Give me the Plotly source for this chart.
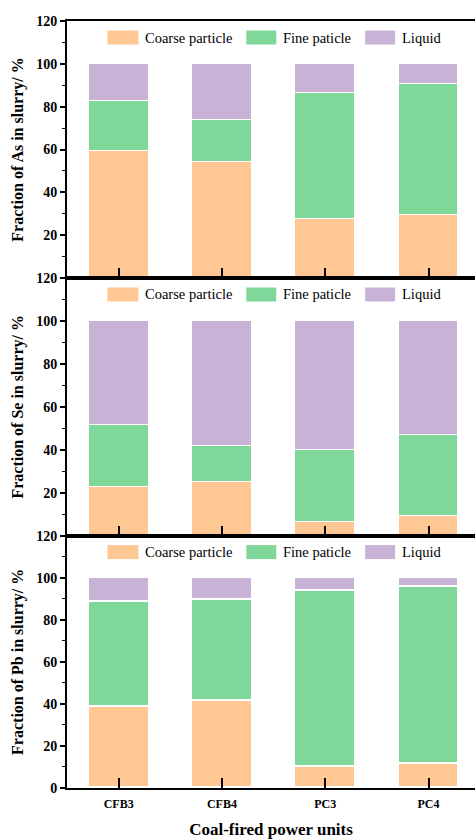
import plotly.graph_objects as go
from plotly.subplots import make_subplots

units = ["CFB3", "CFB4", "PC3", "PC4"]
series_names = ["Coarse particle", "Fine paticle", "Liquid"]
colors = ["#FEC794", "#7FD89A", "#C8B2D6"]

as_coarse = [59.1, 54.0, 27.4, 29.4]
as_fine = [23.4, 19.6, 59.1, 61.0]
as_liquid = [17.5, 26.4, 13.5, 9.6]

se_coarse = [22.8, 25.1, 6.5, 8.9]
se_fine = [28.7, 16.6, 33.5, 37.9]
se_liquid = [48.5, 58.3, 60.0, 53.2]

pb_coarse = [38.5, 41.7, 10.0, 11.6]
pb_fine = [49.9, 47.9, 84.0, 84.0]
pb_liquid = [11.6, 10.4, 6.0, 4.4]

panels = [
    ("Fraction of As in slurry/ %", [as_coarse, as_fine, as_liquid]),
    ("Fraction of Se in slurry/ %", [se_coarse, se_fine, se_liquid]),
    ("Fraction of Pb in slurry/ %", [pb_coarse, pb_fine, pb_liquid]),
]
yticks_top = [20, 40, 60, 80, 100, 120]
yticks_bottom = [0, 20, 40, 60, 80, 100, 120]

FONT = "Liberation Serif"
W, H = 475, 839
ML, MT, MB = 66.5, 20.7, 51.3

fig = make_subplots(rows=3, cols=1, vertical_spacing=0)

for r, (title, vals) in enumerate(panels, start=1):
    for name, v, c in zip(series_names, vals, colors):
        fig.add_trace(go.Bar(x=units, y=v, name=name, marker=dict(color=c, line=dict(color="white", width=1.5)),
                             width=0.58, showlegend=False), row=r, col=1)

plot_h = H - MT - MB
def ypaper(px):
    return (H - MB - px) / plot_h
domains = [(ypaper(277.7), 1.0), (ypaper(535.3), ypaper(277.7)), (0.0, ypaper(535.3))]
panel_px = [(20.7, 277.7), (277.7, 535.3), (535.3, 787.7)]

fig.update_layout(barmode="stack", width=W, height=H, plot_bgcolor="white", paper_bgcolor="white",
                  margin=dict(l=ML, r=0, t=MT, b=MB), font=dict(family=FONT, color="black"), bargap=0)

for r in range(1, 4):
    ya = "yaxis" if r == 1 else f"yaxis{r}"
    fig.layout[ya].domain = domains[r - 1]
    fig.update_yaxes(row=r, col=1, range=[0, 120], tickvals=(yticks_bottom if r == 3 else yticks_top),
                     ticks="outside", ticklen=5, tickwidth=1.5, tickcolor="black",
                     minor=dict(dtick=10, tick0=0, ticks="outside", ticklen=3, tickwidth=1.2, tickcolor="black"),
                     showline=True, linecolor="black", linewidth=2, showgrid=False, zeroline=False,
                     tickfont=dict(family=FONT, size=14, color="black", weight="bold"),
                     title=dict(text=panels[r - 1][0], font=dict(family=FONT, size=16, color="black", weight="bold"),
                                standoff=9))
    fig.update_xaxes(row=r, col=1, range=[-0.5, 3.45], ticks="inside", ticklen=10, tickwidth=2,
                     tickcolor="black",
                     showline=True, linecolor="black", linewidth=2, mirror=True, showgrid=False,
                     showticklabels=(r == 3), tickfont=dict(family=FONT, size=12, color="black", weight="bold"))

fig.update_xaxes(row=3, col=1, ticklabelstandoff=4, title=dict(text="Coal-fired power units",
                 font=dict(family=FONT, size=17, color="black", weight="bold"), standoff=16))

sw_x = [(107, 138), (246, 276), (365, 395)]
txt_x = [143, 281, 400]
pw = W - ML
for r in range(1, 4):
    top, bot = panel_px[r - 1]
    ph = bot - top
    xref = "x domain" if r == 1 else f"x{r} domain"
    yref = "y domain" if r == 1 else f"y{r} domain"
    for (x0, x1), tx, name, c in zip(sw_x, txt_x, series_names, colors):
        fig.add_shape(type="rect", xref=xref, yref=yref,
                      x0=(x0 - ML) / pw, x1=(x1 - ML) / pw,
                      y0=1 - 23.5 / ph, y1=1 - 9.5 / ph, fillcolor=c, line=dict(width=0))
        fig.add_annotation(xref=xref, yref=yref, x=(tx - ML) / pw, y=1 - 16.5 / ph, text=name,
                           showarrow=False, xanchor="left", yanchor="middle",
                           font=dict(family=FONT, size=14.5, color="black"))

fig.write_html("out.html")
